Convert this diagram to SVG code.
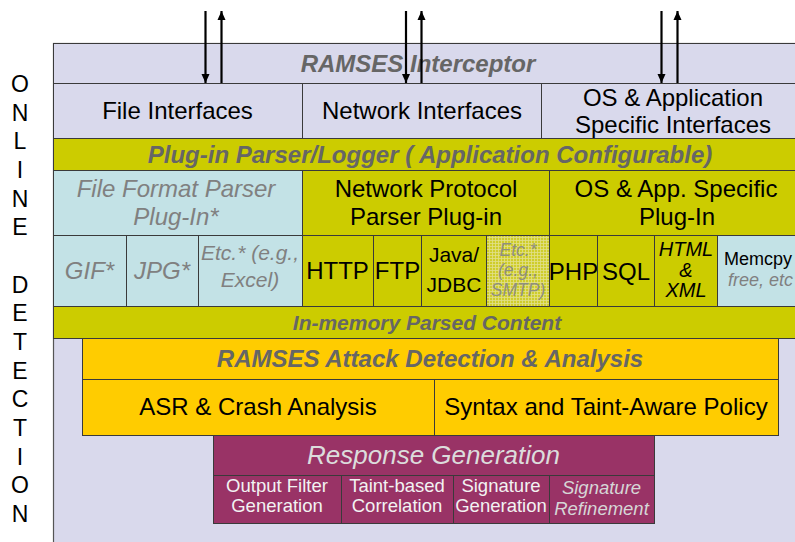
<svg xmlns="http://www.w3.org/2000/svg" width="795" height="542" viewBox="0 0 795 542">
<defs>
<style>
text{font-family:"Liberation Sans",Arial,sans-serif;text-anchor:middle}
.bx{stroke:#3a3a3a;stroke-width:1}
.lav{fill:#d9d9ec}
.olv{fill:#cccc00}
.lb{fill:#c3e2e6}
.org{fill:#ffcc00}
.pur{fill:#993366}
.t24{font-size:24px;fill:#000}
.hd{font-size:24px;font-weight:bold;font-style:italic;fill:#666}
.gi{font-style:italic;fill:#808080}
.wt{font-size:18.5px;fill:#f2f2f2}
.ar{stroke:#000;stroke-width:2.2;fill:none}
</style>
<pattern id="hatch" width="3" height="3" patternUnits="userSpaceOnUse">
<rect width="3" height="3" fill="#cfcd2a"/>
<path d="M0 0.5H3M0.5 0V3" stroke="#e2e08a" stroke-width="0.8"/>
</pattern>
<marker id="ah" markerWidth="10" markerHeight="10" refX="9" refY="5" orient="auto" markerUnits="userSpaceOnUse">
<path d="M0 1L9 5L0 9Z" fill="#000"/>
</marker>
</defs>
<rect width="795" height="542" fill="#fff"/>
<g id="side-label">
<text font-size="23" x="20" y="92">O<tspan x="20" dy="28.67">N</tspan><tspan x="20" dy="28.67">L</tspan><tspan x="20" dy="28.67">I</tspan><tspan x="20" dy="28.67">N</tspan><tspan x="20" dy="28.67">E</tspan><tspan x="20" dy="57.34">D</tspan><tspan x="20" dy="28.67">E</tspan><tspan x="20" dy="28.67">T</tspan><tspan x="20" dy="28.67">E</tspan><tspan x="20" dy="28.67">C</tspan><tspan x="20" dy="28.67">T</tspan><tspan x="20" dy="28.67">I</tspan><tspan x="20" dy="28.67">O</tspan><tspan x="20" dy="28.67">N</tspan></text>
</g>
<g id="online-detection">
<rect class="lav" x="53.5" y="43.5" width="760" height="510" stroke="#555" stroke-width="1.2"/>
</g>
<g id="interceptor">
<rect class="lav bx" x="53.5" y="43.5" width="760" height="40"/>
<text class="hd" x="418" y="72">RAMSES Interceptor</text>
</g>
<g id="file-interfaces">
<rect class="lav bx" x="53.5" y="83.5" width="249" height="55"/>
<text class="t24" x="177.5" y="119">File Interfaces</text>
</g>
<g id="network-interfaces">
<rect class="lav bx" x="302.5" y="83.5" width="239" height="55"/>
<text class="t24" x="422" y="119">Network Interfaces</text>
</g>
<g id="os-interfaces">
<rect class="lav bx" x="541.5" y="83.5" width="272" height="55"/>
<text class="t24" x="673" y="106">OS &amp; Application</text>
<text class="t24" x="673" y="133">Specific Interfaces</text>
</g>
<g id="parser-logger">
<rect class="olv bx" x="53.5" y="138.5" width="760" height="32"/>
<text class="hd" x="430" y="163">Plug-in Parser/Logger ( Application Configurable)</text>
</g>
<g id="file-format-parser">
<rect class="lb bx" x="53.5" y="170.5" width="249" height="65"/>
<text class="gi" font-size="24" x="176" y="197">File Format Parser</text>
<text class="gi" font-size="24" x="176" y="225">Plug-In*</text>
</g>
<g id="network-protocol-parser">
<rect class="olv bx" x="302.5" y="170.5" width="247" height="65"/>
<text class="t24" x="426" y="197">Network Protocol</text>
<text class="t24" x="426" y="225">Parser Plug-in</text>
</g>
<g id="os-app-plugin">
<rect class="olv bx" x="549.5" y="170.5" width="264" height="65"/>
<text class="t24" x="676" y="197">OS &amp; App. Specific</text>
<text class="t24" x="677" y="225">Plug-In</text>
</g>
<g id="gif">
<rect class="lb bx" x="53.5" y="235.5" width="73" height="71"/>
<text class="gi" font-size="24" x="89.5" y="279">GIF*</text>
</g>
<g id="jpg">
<rect class="lb bx" x="126.5" y="235.5" width="72" height="71"/>
<text class="gi" font-size="24" x="162" y="279">JPG*</text>
</g>
<g id="etc-excel">
<rect class="lb bx" x="198.5" y="235.5" width="104" height="71"/>
<text class="gi" font-size="21" x="250" y="260">Etc.* (e.g.,</text>
<text class="gi" font-size="21" x="250" y="287">Excel)</text>
</g>
<g id="http">
<rect class="olv bx" x="302.5" y="235.5" width="71" height="71"/>
<text class="t24" x="337.5" y="279">HTTP</text>
</g>
<g id="ftp">
<rect class="olv bx" x="373.5" y="235.5" width="48" height="71"/>
<text class="t24" x="397.5" y="279">FTP</text>
</g>
<g id="java-jdbc">
<rect class="olv bx" x="421.5" y="235.5" width="65" height="71"/>
<text font-size="21" x="454" y="262">Java/</text>
<text font-size="21" x="454" y="292">JDBC</text>
</g>
<g id="etc-smtp">
<rect fill="url(#hatch)" class="bx" x="486.5" y="235.5" width="63" height="71"/>
<text font-size="17.5" font-style="italic" fill="#8f8f80" x="518" y="256">Etc.*</text>
<text font-size="17.5" font-style="italic" fill="#8f8f80" x="518" y="276">(e.g.,</text>
<text font-size="17.5" font-style="italic" fill="#8f8f80" x="518" y="296">SMTP)</text>
</g>
<g id="php">
<rect class="olv bx" x="549.5" y="235.5" width="48" height="71"/>
<text class="t24" x="573.5" y="280">PHP</text>
</g>
<g id="sql">
<rect class="olv bx" x="597.5" y="235.5" width="57" height="71"/>
<text class="t24" x="626" y="280">SQL</text>
</g>
<g id="html-xml">
<rect class="olv bx" x="654.5" y="235.5" width="63" height="71"/>
<text font-size="20" font-style="italic" x="686" y="256">HTML</text>
<text font-size="20" font-style="italic" x="686" y="277">&amp;</text>
<text font-size="20" font-style="italic" x="686" y="297">XML</text>
</g>
<g id="memcpy">
<rect class="lb bx" x="717.5" y="235.5" width="96" height="71"/>
<text font-size="18" x="724" y="265" style="text-anchor:start">Memcpy</text>
<text class="gi" font-size="18" x="728" y="286" style="text-anchor:start">free, etc</text>
</g>
<g id="parsed-content">
<rect class="olv bx" x="53.5" y="306.5" width="760" height="32"/>
<text class="hd" x="427" y="330" style="font-size:21px">In-memory Parsed Content</text>
</g>
<g id="attack-detection">
<rect class="org bx" x="82.5" y="338.5" width="696" height="41"/>
<text class="hd" x="430" y="367">RAMSES Attack Detection &amp; Analysis</text>
</g>
<g id="asr-crash">
<rect class="org bx" x="82.5" y="379.5" width="352" height="56"/>
<text class="t24" x="258" y="415">ASR &amp; Crash Analysis</text>
</g>
<g id="taint-policy">
<rect class="org bx" x="434.5" y="379.5" width="344" height="56"/>
<text class="t24" x="606" y="415">Syntax and Taint-Aware Policy</text>
</g>
<g id="response-generation">
<rect class="pur bx" x="213.5" y="435.5" width="441" height="40"/>
<text font-size="26" font-style="italic" fill="#dcdcdc" x="433.5" y="464">Response Generation</text>
</g>
<g id="output-filter">
<rect class="pur bx" x="213.5" y="475.5" width="128" height="48"/>
<text class="wt" x="277" y="492">Output Filter</text>
<text class="wt" x="277" y="512">Generation</text>
</g>
<g id="taint-correlation">
<rect class="pur bx" x="341.5" y="475.5" width="112" height="48"/>
<text class="wt" x="397" y="492">Taint-based</text>
<text class="wt" x="397" y="512">Correlation</text>
</g>
<g id="signature-generation">
<rect class="pur bx" x="453.5" y="475.5" width="96" height="48"/>
<text class="wt" x="501" y="492">Signature</text>
<text class="wt" x="501" y="512">Generation</text>
</g>
<g id="signature-refinement">
<rect class="pur bx" x="549.5" y="475.5" width="105" height="48"/>
<text font-size="18.5" font-style="italic" fill="#d6d6d6" x="601.5" y="494">Signature</text>
<text font-size="18.5" font-style="italic" fill="#d6d6d6" x="601.5" y="515">Refinement</text>
</g>
<g id="connectors">
<path class="ar" d="M205.5 11V83" marker-end="url(#ah)"/>
<path class="ar" d="M221.5 83V11" marker-end="url(#ah)"/>
<path class="ar" d="M406 11V83" marker-end="url(#ah)"/>
<path class="ar" d="M421.5 83V11" marker-end="url(#ah)"/>
<path class="ar" d="M661.5 11V83" marker-end="url(#ah)"/>
<path class="ar" d="M677.5 83V11" marker-end="url(#ah)"/>
</g>
</svg>
